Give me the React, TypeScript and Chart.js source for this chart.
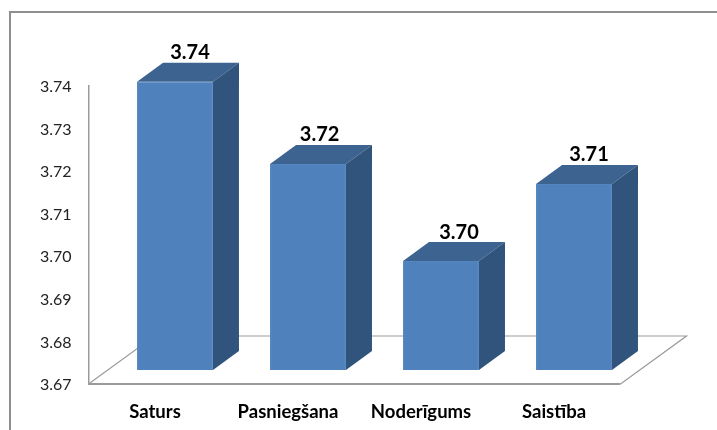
import React, { useEffect, useRef } from "react";
import { Chart, registerables } from "chart.js";

Chart.register(...registerables);

const categories = ["Saturs", "Pasniegšana", "Noderīgums", "Saistība"];
const scores = [3.7377, 3.7184, 3.6956, 3.7137];
const axisMin = 3.67;
const axisMax = 3.74;
const axisStep = 0.01;

const FONT = "Lato, 'Open Sans', sans-serif";
const FRONT = "#4f81bd";
const TOP = "#3d6390";
const SIDE = "#31547c";
const EDGE = "#5686bf";
const LINE = "#9b9b9b";
const OFFSET = { x: 20, y: -14 };
const DEPTH = { x: 26, y: -19 };
const FLOOR = { x: 66, y: -48 };
const LABEL_NUDGE_X = [2, -1.4, 5, 2];

const poly = (ctx: CanvasRenderingContext2D, pts: number[][], fill: string) => {
  ctx.beginPath();
  pts.forEach(([x, y], i) => (i ? ctx.lineTo(x, y) : ctx.moveTo(x, y)));
  ctx.closePath();
  ctx.fillStyle = fill;
  ctx.fill();
};

const bars3d = {
  id: "bars3d",
  beforeDraw(chart: any) {
    const ctx = chart.ctx;
    ctx.save();
    ctx.strokeStyle = "#8e8e8e";
    ctx.lineWidth = 2;
    ctx.strokeRect(10, 12, 900, 600);
    ctx.restore();
  },
  beforeDatasetsDraw(chart: any) {
    const ctx = chart.ctx;
    const { left, right, bottom } = chart.chartArea;
    ctx.save();
    ctx.strokeStyle = LINE;
    ctx.lineWidth = 1.2;
    ctx.beginPath();
    ctx.moveTo(left, bottom);
    ctx.lineTo(left + FLOOR.x, bottom + FLOOR.y);
    ctx.lineTo(right + FLOOR.x, bottom + FLOOR.y);
    ctx.lineTo(right, bottom);
    ctx.stroke();
    ctx.lineWidth = 2;
    ctx.beginPath();
    ctx.moveTo(left, bottom);
    ctx.lineTo(right, bottom);
    ctx.stroke();
    ctx.restore();

    ctx.save();
    ctx.translate(OFFSET.x, OFFSET.y);
    chart.getDatasetMeta(0).data.forEach((bar: any) => {
      const { x, y, base, width } = bar.getProps(["x", "y", "base", "width"], true);
      const l = x - width / 2;
      const r = x + width / 2;
      poly(ctx, [[l, y], [l + DEPTH.x, y + DEPTH.y], [r + DEPTH.x, y + DEPTH.y], [r, y]], TOP);
      poly(ctx, [[r, y], [r + DEPTH.x, y + DEPTH.y], [r + DEPTH.x, base + DEPTH.y], [r, base]], SIDE);
    });
  },
  afterDatasetsDraw(chart: any) {
    const ctx = chart.ctx;
    ctx.restore();
    ctx.save();
    ctx.font = `bold 20px ${FONT}`;
    ctx.fillStyle = "#000000";
    ctx.textAlign = "center";
    ctx.textBaseline = "alphabetic";
    chart.getDatasetMeta(0).data.forEach((bar: any, i: number) => {
      const { x, y } = bar.getProps(["x", "y"], true);
      ctx.fillText(
        scores[i].toFixed(2),
        x + OFFSET.x + DEPTH.x / 2 + LABEL_NUDGE_X[i],
        y + OFFSET.y + DEPTH.y - 3.5
      );
    });
    ctx.restore();
  },
};

export default function App() {
  const ref = useRef<HTMLCanvasElement>(null);
  useEffect(() => {
    const chart = new Chart(ref.current!, {
      type: "bar",
      data: {
        labels: categories,
        datasets: [
          {
            data: scores,
            base: axisMin,
            backgroundColor: FRONT,
            borderColor: EDGE,
            borderWidth: 1,
            categoryPercentage: 1,
            barPercentage: 0.571,
            clip: false,
          } as any,
        ],
      },
      options: {
        animation: false,
        responsive: false,
        layout: { padding: { top: 86, right: 96.5, left: 0, bottom: 0 } },
        plugins: { legend: { display: false }, tooltip: { enabled: false }, title: { display: false } },
        scales: {
          x: {
            grid: { display: false, drawTicks: false },
            border: { display: false },
            afterFit: (s: any) => {
              s.height = 46;
            },
            ticks: {
              font: { family: FONT, size: 18.5, weight: "bold" },
              color: "#000000",
              padding: 17,
              maxRotation: 0,
            },
          },
          y: {
            min: axisMin,
            max: axisMax,
            grid: { display: false, drawTicks: false },
            border: { display: true, color: LINE, width: 1.5 },
            afterFit: (s: any) => {
              s.width = 88.5;
            },
            ticks: {
              stepSize: axisStep,
              font: { family: FONT, size: 16 },
              color: "#222222",
              padding: 17,
              labelOffset: 1,
              callback: (v: any) => Number(v).toFixed(2),
            },
          },
        },
      },
      plugins: [bars3d],
    });
    return () => chart.destroy();
  }, []);
  return (
    <div style={{ position: "absolute", left: 0, top: 0, width: 717, height: 430, background: "#ffffff", overflow: "hidden" }}>
      <canvas ref={ref} width={717} height={430} style={{ display: "block" }} />
    </div>
  );
}
